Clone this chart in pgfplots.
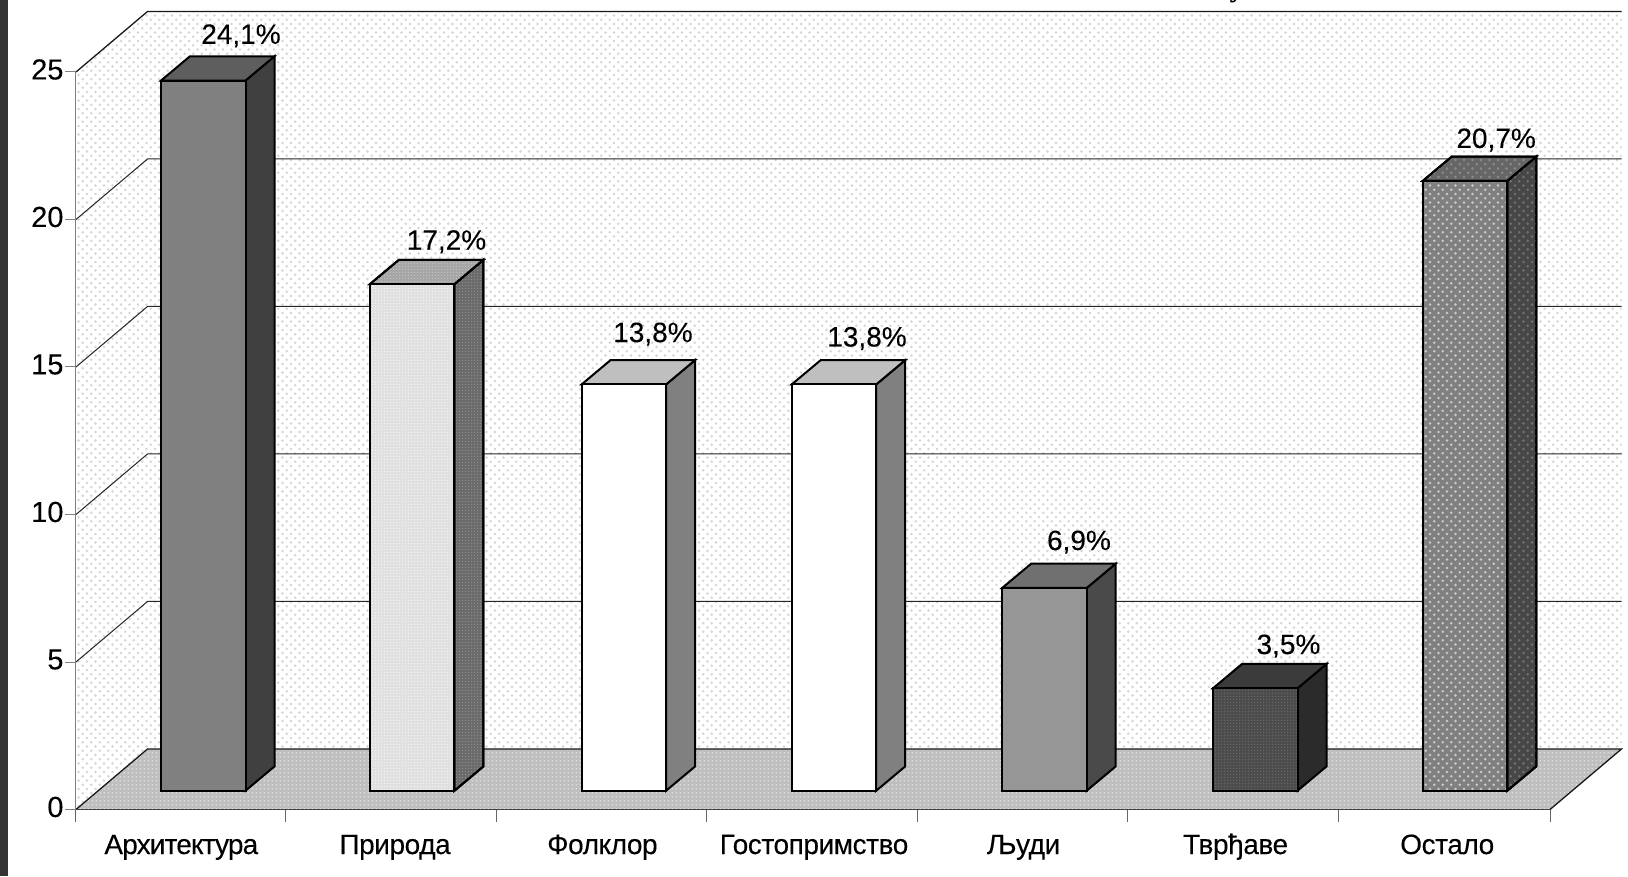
\documentclass[border=0pt]{standalone}
\usepackage{fontspec}
\setmainfont[FakeBold=0.12]{Liberation Sans}
\newfontfamily\catfont[LetterSpace=-1.5,FakeBold=0.12]{Liberation Sans}
\newfontfamily\cattight[LetterSpace=-3,FakeBold=0.12]{Liberation Sans}
\newfontfamily\serifpart{Liberation Serif}
\usepackage{pgfplots}
\pgfplotsset{compat=1.18}
\usetikzlibrary{patterns}
\definecolor{walldot}{HTML}{D4D4D4}
\makeatletter
\pgfdeclarepatternformonly{wallpat}{\pgfqpoint{-0.5pt}{-0.5pt}}{\pgfqpoint{9pt}{9pt}}{\pgfqpoint{8.5pt}{8.5pt}}{%
  \pgfpathcircle{\pgfqpoint{2pt}{2pt}}{1.35pt}%
  \pgfpathcircle{\pgfqpoint{6.25pt}{6.25pt}}{1.35pt}%
  \pgfusepath{fill}}
\pgfdeclarepatternformonly{checkpat}{\pgfqpoint{0pt}{0pt}}{\pgfqpoint{4.2pt}{4.2pt}}{\pgfqpoint{4.2pt}{4.2pt}}{%
  \pgfpathrectangle{\pgfqpoint{0.6pt}{0.6pt}}{\pgfqpoint{1.5pt}{1.5pt}}%
  \pgfusepath{fill}}
\pgfdeclarepatternformonly{finepat}{\pgfqpoint{0pt}{0pt}}{\pgfqpoint{3pt}{3pt}}{\pgfqpoint{3pt}{3pt}}{%
  \pgfpathrectangle{\pgfqpoint{0.3pt}{0.3pt}}{\pgfqpoint{1.2pt}{1.2pt}}%
  \pgfusepath{fill}}
\makeatother
\tikzset{
  wall/.style={draw=none,fill=white,postaction={pattern=wallpat,pattern color=walldot}},
  flr/.style={draw=none,fill=black!25,postaction={pattern=checkpat,pattern color=white!88!black}},
  grid3d/.style={draw=black!85,line width=1pt},
  edge3d/.style={draw=black!90,line width=1.3pt},
  barF/.style={draw=black,line width=2pt,line join=miter},
}
% left edge (axis units), value, face fills
\newcommand{\threedbar}[5]{%
  \pgfmathsetmacro\xa{#1}%
  \pgfmathsetmacro\xb{#1+0.4013}%
  \pgfmathsetmacro\xc{#1+0.5390}%
  \pgfmathsetmacro\xd{#1+0.1377}%
  \pgfmathsetmacro\yb{0.637}%
  \pgfmathsetmacro\yt{0.61+#2}%
  \pgfmathsetmacro\ybd{0.637+0.8237}%
  \pgfmathsetmacro\ytd{0.61+#2+0.8237}%
  \addplot[barF,#5] coordinates {(\xb,\yb) (\xc,\ybd) (\xc,\ytd) (\xb,\yt)} --cycle;
  \addplot[barF,#4] coordinates {(\xa,\yt) (\xd,\ytd) (\xc,\ytd) (\xb,\yt)} --cycle;
  \addplot[barF,#3] coordinates {(\xa,\yb) (\xb,\yb) (\xb,\yt) (\xa,\yt)} --cycle;
}
\begin{document}
\begin{tikzpicture}[x=1pt,y=1pt]
\path[use as bounding box] (0,0) rectangle (1628,876);
\fill[black!80] (0,0) rectangle (8,876);
\node[anchor=base,font=\fontsize{30}{32}\selectfont\serifpart\bfseries,inner sep=0pt] at (1237,879.5) {у};
\begin{axis}[
  at={(76pt,66.5pt)},anchor=south west,
  scale only axis,width=1474pt,height=737.5pt,
  xmin=0,xmax=7,ymin=0,ymax=25,
  clip=false,axis on top,
  axis lines*=left,
  axis line style={-},
  x axis line style={draw=black!75,line width=1pt},
  y axis line style={draw=black!50,line width=1pt},
  font=\fontsize{28}{30}\selectfont,
  ticklabel style={font=\fontsize{28}{30}\selectfont},
  /pgf/number format/assume math mode=true,
  ytick={0,5,...,25},
  ytick style={draw=black!50,line width=1pt},
  major tick length=11pt,
  tick align=outside,
  yticklabel style={xshift=2pt,yshift=2.5pt,font=\fontsize{29}{30}\selectfont},
  xtick={0.5,1.515,2.5,3.505,4.5,5.507,6.512},
  xticklabels={{\cattight Архитектура},{\catfont Природа},{\catfont Фолклор},{\catfont Гостопримство},{\catfont Људи},{\catfont Тврђаве},{\catfont Остало}},
  xtick style={draw=none},
  xticklabel style={text height=21pt,text depth=6pt,yshift=-9pt},
  minor xtick={0,0.995,1.995,2.995,3.995,4.995,5.995,7},
  minor tick length=12pt,
  minor x tick style={draw=black!60,line width=1pt},
]
% side wall, back wall, floor
\addplot[wall] coordinates {(0,0) (0,25) (0.3396,27.051) (0.3396,2.051)} --cycle;
\addplot[wall] coordinates {(0.3396,2.051) (0.3396,27.051) (7.3396,27.051) (7.3396,2.051)} --cycle;
\addplot[flr] coordinates {(0,0) (0.3396,2.051) (7.3396,2.051) (7,0)} --cycle;
% grid lines
\addplot[grid3d] coordinates {(0,5) (0.3396,7.051) (7.3396,7.051)};
\addplot[grid3d] coordinates {(0,10) (0.3396,12.051) (7.3396,12.051)};
\addplot[grid3d] coordinates {(0,15) (0.3396,17.051) (7.3396,17.051)};
\addplot[grid3d] coordinates {(0,20) (0.3396,22.051) (7.3396,22.051)};
\addplot[edge3d] coordinates {(0,25) (0.3396,27.051) (7.3396,27.051)};
\addplot[edge3d] coordinates {(0,0) (0.3396,2.051) (7.3396,2.051) (7,0)};
% bars
\threedbar{0.4037}{24.1}{fill=black!50}{fill=black!63}{fill=black!75}
\threedbar{1.3960}{17.2}{fill=black!12,postaction={pattern=finepat,pattern color=white!95!black}}{fill=black!35,postaction={pattern=finepat,pattern color=black!25}}{fill=black!58,postaction={pattern=finepat,pattern color=black!45}}
\threedbar{2.4011}{13.8}{fill=white}{fill=black!25}{fill=black!50}
\threedbar{3.3990}{13.8}{fill=white}{fill=black!25}{fill=black!50}
\threedbar{4.3985}{6.9}{fill=black!41}{fill=black!56}{fill=black!71}
\threedbar{5.3997}{3.5}{fill=black!70,postaction={pattern=finepat,pattern color=black!60}}{fill=black!77}{fill=black!83}
\threedbar{6.3959}{20.7}{fill=black!50,postaction={pattern=wallpat,pattern color=black!20}}{fill=black!60,postaction={pattern=wallpat,pattern color=black!45}}{fill=black!72,postaction={pattern=wallpat,pattern color=black!55}}
% value labels
\node[anchor=base,inner sep=0pt] at (axis cs:0.7836,25.955) {24,1\%};
\node[anchor=base,inner sep=0pt] at (axis cs:1.7595,18.975) {17,2\%};
\node[anchor=base,inner sep=0pt] at (axis cs:2.740,15.845) {13,8\%};
\node[anchor=base,inner sep=0pt] at (axis cs:3.7565,15.695) {13,8\%};
\node[anchor=base,inner sep=0pt] at (axis cs:4.763,8.795) {6,9\%};
\node[anchor=base,inner sep=0pt] at (axis cs:5.758,5.27) {3,5\%};
\node[anchor=base,inner sep=0pt] at (axis cs:6.744,22.425) {20,7\%};
\end{axis}
\end{tikzpicture}
\end{document}
